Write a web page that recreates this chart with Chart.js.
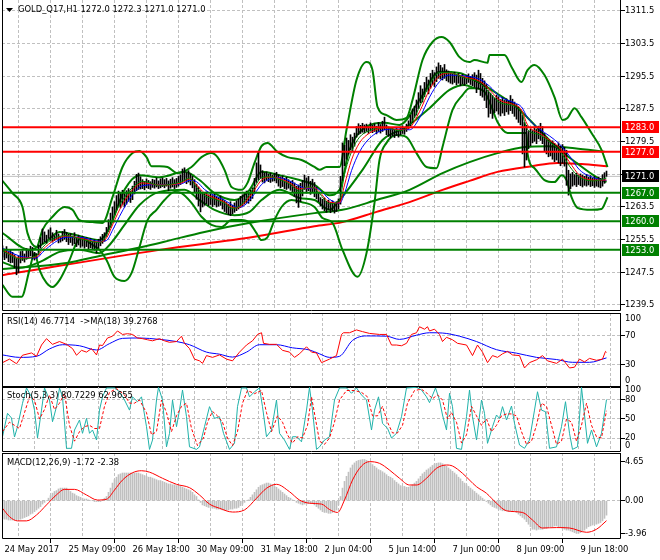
<!DOCTYPE html>
<html><head><meta charset="utf-8">
<script src="https://cdn.jsdelivr.net/npm/chart.js@4.4.1/dist/chart.umd.min.js"></script>
<style>
html,body{margin:0;padding:0;background:#fff;width:660px;height:560px;overflow:hidden}
canvas{position:absolute;left:0}
</style></head><body>
<canvas id="cMain" width="660" height="318" style="top:0px"></canvas>
<canvas id="cRsi" width="660" height="88" style="top:304px"></canvas>
<canvas id="cSto" width="660" height="82" style="top:378px"></canvas>
<canvas id="cMacd" width="660" height="114" style="top:446px"></canvas>
<script>
// ---------- DATA ----------
const timeLabels = ['24 May 2017','25 May 09:00','26 May 18:00','30 May 09:00','31 May 18:00','2 Jun 04:00','5 Jun 14:00','7 Jun 00:00','8 Jun 09:00','9 Jun 18:00'];
const gridBars = [0,16,32,48,64,80,96,112,128,144,160,176,192,208,224,240,256,272,288,304];
const priceTicks = [1239.5,1247.5,1255.5,1263.5,1271.5,1279.5,1287.5,1295.5,1303.5,1311.5];
const rsiTicks = [30,70];
const stoTicks = [20,50,80];
const macdTicks = [-3.96,0,4.65];
const levelsRed = [1283.0,1277.0];
const levelsGreen = [1267.0,1260.0,1253.0];
const lastPrice = 1271.0;

const barHigh = [
1254.0,1253.2,1253.8,1252.6,1253.0,1252.4,1251.8,1250.9,1251.5,1252.6,
1252.8,1252.0,1253.3,1253.1,1253.9,1253.6,1252.4,1252.1,1254.2,1256.0,
1258.1,1257.4,1256.6,1257.9,1258.4,1257.2,1256.5,1257.8,1256.9,1256.2,
1257.5,1258.0,1257.3,1256.8,1257.0,1256.4,1257.2,1256.1,1256.6,1255.9,
1256.3,1255.7,1256.0,1255.4,1255.8,1255.1,1255.5,1254.9,1255.6,1256.2,
1256.8,1257.2,1258.5,1260.4,1262.0,1263.5,1264.8,1266.3,1267.4,1266.9,
1267.6,1266.8,1267.5,1268.0,1267.4,1268.6,1269.8,1271.5,1271.8,1270.9,
1270.2,1269.8,1270.4,1270.0,1269.7,1270.3,1270.1,1270.6,1269.9,1270.4,
1270.6,1270.2,1270.5,1269.9,1270.3,1270.7,1270.2,1270.5,1271.0,1271.4,
1272.8,1273.1,1271.9,1272.4,1271.6,1271.0,1270.2,1269.1,1268.4,1267.5,
1267.0,1266.8,1267.2,1266.5,1266.9,1266.3,1266.6,1266.0,1265.8,1266.2,
1265.5,1265.1,1264.6,1264.2,1264.8,1263.9,1264.5,1265.0,1265.4,1266.1,
1266.5,1267.0,1267.4,1266.9,1267.6,1268.2,1270.5,1274.3,1277.0,1273.8,
1272.4,1271.9,1272.1,1271.6,1271.8,1271.3,1271.7,1272.0,1271.4,1270.9,
1271.1,1270.5,1270.8,1270.2,1269.8,1270.0,1269.4,1268.6,1268.9,1269.3,
1270.0,1271.3,1270.6,1271.0,1269.8,1270.3,1269.5,1268.4,1267.0,1265.8,
1265.4,1265.7,1264.9,1265.2,1264.6,1265.0,1264.4,1264.8,1265.5,1271.0,
1279.2,1278.6,1280.4,1279.8,1281.2,1280.6,1281.6,1283.2,1283.9,1283.5,
1284.0,1283.6,1283.8,1283.2,1284.1,1283.5,1283.9,1283.3,1284.2,1283.7,
1284.5,1285.5,1283.6,1283.1,1282.7,1283.0,1282.4,1282.9,1282.2,1283.1,
1283.4,1283.0,1283.8,1284.6,1286.0,1287.5,1288.2,1289.7,1291.5,1293.2,
1292.4,1294.0,1295.3,1294.6,1296.2,1297.0,1296.4,1297.8,1298.8,1298.2,
1297.6,1298.4,1297.1,1296.8,1296.3,1296.0,1296.5,1295.8,1296.2,1295.6,
1296.0,1295.4,1295.8,1296.1,1295.5,1295.9,1296.4,1295.8,1297.0,1296.2,
1295.0,1294.4,1293.5,1292.0,1291.4,1290.8,1290.2,1290.9,1290.5,1289.8,
1290.3,1289.6,1290.0,1289.4,1290.8,1289.9,1289.2,1288.6,1288.0,1287.3,
1286.0,1284.2,1283.5,1282.0,1282.6,1282.2,1283.1,1282.5,1283.3,1284.0,
1283.2,1281.5,1280.6,1280.0,1279.4,1279.7,1279.1,1278.6,1279.2,1278.4,
1278.8,1278.1,1277.4,1272.5,1271.6,1272.0,1271.4,1271.8,1271.2,1271.6,
1271.3,1271.0,1271.5,1270.8,1271.2,1270.6,1271.0,1270.4,1270.8,1270.5,
1271.4,1271.9,1272.3];
const barLow = [
1251.2,1250.6,1251.0,1250.1,1249.8,1249.9,1248.6,1246.9,1247.4,1249.8,
1250.4,1250.0,1250.7,1251.2,1251.5,1250.8,1250.5,1250.9,1251.8,1253.4,
1254.5,1255.0,1254.6,1255.8,1255.2,1254.9,1255.3,1255.6,1254.7,1254.9,
1255.2,1255.6,1255.0,1254.3,1254.8,1254.1,1254.5,1253.8,1254.2,1253.6,
1253.9,1253.4,1253.8,1253.1,1253.5,1253.0,1252.9,1252.2,1253.4,1254.0,
1254.6,1255.1,1256.3,1257.5,1258.6,1260.2,1261.5,1262.8,1263.6,1263.3,
1264.0,1263.5,1264.2,1264.9,1264.6,1265.3,1266.7,1267.5,1267.8,1267.9,
1268.0,1267.7,1268.2,1268.0,1267.8,1268.3,1268.1,1268.4,1268.0,1268.2,
1268.5,1268.2,1268.6,1267.5,1268.1,1268.4,1268.0,1268.3,1268.6,1269.0,
1269.5,1269.8,1269.2,1269.6,1268.9,1268.2,1267.0,1265.4,1263.8,1262.3,
1263.5,1263.9,1264.3,1263.8,1264.1,1263.6,1264.0,1263.5,1263.7,1263.9,
1263.0,1262.4,1262.0,1261.6,1261.4,1261.8,1262.2,1262.6,1263.0,1263.4,
1263.8,1264.2,1264.6,1264.4,1265.0,1265.6,1266.8,1269.5,1270.2,1270.5,
1269.6,1269.4,1270.0,1269.7,1269.5,1269.8,1269.9,1269.4,1268.6,1268.2,
1268.5,1268.0,1267.8,1268.1,1267.6,1267.2,1266.1,1264.5,1263.4,1264.8,
1266.2,1267.8,1266.9,1267.5,1266.6,1267.0,1266.0,1265.5,1264.8,1263.7,
1263.0,1262.6,1262.2,1262.8,1262.1,1262.5,1262.0,1262.4,1263.0,1264.2,
1270.0,1273.6,1275.2,1276.4,1277.5,1277.0,1278.4,1280.6,1281.2,1281.5,
1281.8,1281.6,1282.0,1281.5,1282.1,1281.7,1282.0,1281.4,1281.9,1281.6,
1282.0,1282.4,1281.2,1280.8,1280.4,1280.9,1280.5,1281.0,1280.6,1281.2,
1281.5,1281.3,1282.0,1282.6,1283.4,1284.2,1285.4,1286.0,1287.6,1289.0,
1289.2,1290.5,1291.8,1291.2,1292.6,1293.4,1293.0,1294.2,1295.0,1294.8,
1294.6,1295.0,1294.4,1294.1,1293.8,1293.6,1294.0,1293.4,1293.8,1293.2,
1293.6,1293.3,1293.7,1294.0,1293.5,1293.2,1292.8,1291.5,1292.4,1290.8,
1290.4,1289.6,1287.8,1285.5,1286.4,1285.2,1286.6,1287.0,1286.2,1285.8,
1286.5,1285.9,1286.8,1286.2,1287.1,1286.4,1285.7,1285.0,1284.2,1283.6,
1276.5,1273.3,1275.0,1277.8,1278.5,1279.2,1279.6,1279.0,1280.2,1279.8,
1279.0,1277.2,1276.5,1275.8,1276.0,1275.2,1274.6,1275.0,1274.3,1273.6,
1274.2,1273.5,1268.8,1266.4,1268.0,1268.6,1268.9,1268.5,1269.0,1268.7,
1268.4,1268.8,1268.6,1268.9,1268.5,1268.7,1268.3,1268.6,1268.4,1268.2,
1268.6,1269.3,1271.0];

const maRed = [[0,1253.0],[5,1251.7],[8.5,1251.0],[17,1251.3],[20,1253.0],[26,1255.4],[32,1256.4],[38.5,1255.9],[48.5,1254.9],[52,1255.9],[55,1259.1],[58.5,1262.8],[62,1265.7],[65,1267.7],[70,1269.4],[78.5,1268.9],[89.5,1269.4],[93.5,1270.4],[97,1268.9],[101,1266.9],[106,1265.7],[111,1264.7],[114.5,1263.5],[117.5,1263.3],[121,1264.5],[126,1267.7],[129.5,1270.1],[133.5,1270.8],[137.5,1270.6],[143.5,1269.4],[148.5,1267.9],[152.5,1268.2],[156,1268.2],[158.5,1267.2],[163.5,1264.7],[168.5,1264.5],[171,1268.9],[174.5,1275.0],[178.5,1279.2],[183.5,1281.6],[191,1282.9],[198.5,1282.4],[203.5,1282.9],[208.5,1286.8],[213.5,1292.2],[218.5,1295.6],[223.5,1296.3],[231,1295.3],[238.5,1294.3],[243.5,1292.2],[248.5,1289.7],[256,1288.5],[259.5,1287.3],[262.5,1283.6],[268.5,1281.6],[273.5,1279.9],[278.5,1278.0],[283.5,1274.5],[288.5,1271.3],[296,1270.1],[302,1270.1]];
const maGreen = [[0,1252.8],[5,1251.4],[8.5,1250.8],[17,1251.6],[20,1253.6],[26,1255.9],[32,1256.5],[38.5,1255.7],[48.5,1254.8],[52,1256.6],[55,1260.3],[58.5,1264.0],[62,1266.5],[65,1268.3],[70,1269.8],[78.5,1268.8],[89.5,1269.7],[93.5,1270.6],[97,1268.3],[101,1266.3],[106,1265.4],[111,1264.4],[114.5,1263.2],[117.5,1263.4],[121,1265.0],[126,1268.4],[129.5,1270.7],[133.5,1270.9],[137.5,1270.4],[143.5,1269.1],[148.5,1267.4],[152.5,1268.4],[156,1268.0],[158.5,1266.8],[163.5,1264.3],[168.5,1265.2],[171,1271.5],[174.5,1277.0],[178.5,1280.6],[183.5,1282.2],[191,1283.0],[198.5,1282.2],[203.5,1283.5],[208.5,1288.0],[213.5,1293.5],[218.5,1296.4],[223.5,1296.4],[231,1295.1],[238.5,1293.9],[243.5,1291.5],[248.5,1289.1],[256,1288.2],[259.5,1286.6],[262.5,1282.5],[268.5,1281.2],[273.5,1279.4],[278.5,1277.4],[283.5,1273.5],[288.5,1270.8],[296,1269.9],[302,1270.6]];
const maBlue = [[0,1253.4],[5,1252.2],[8.5,1251.5],[17,1251.0],[20,1252.4],[26,1254.8],[32,1256.1],[38.5,1256.1],[48.5,1255.1],[52,1255.3],[55,1257.8],[58.5,1261.2],[62,1264.3],[65,1266.5],[70,1268.7],[78.5,1269.0],[89.5,1269.2],[93.5,1270.0],[97,1269.7],[101,1267.8],[106,1266.3],[111,1265.2],[114.5,1264.1],[117.5,1263.4],[121,1263.9],[126,1266.7],[129.5,1269.0],[133.5,1270.3],[137.5,1270.7],[143.5,1269.9],[148.5,1268.6],[152.5,1268.0],[156,1268.2],[158.5,1267.7],[163.5,1265.4],[168.5,1264.4],[171,1266.8],[174.5,1272.4],[178.5,1277.0],[183.5,1280.3],[191,1282.4],[198.5,1282.6],[203.5,1282.4],[208.5,1285.3],[213.5,1290.4],[218.5,1294.2],[223.5,1295.8],[231,1295.6],[238.5,1294.8],[243.5,1293.1],[248.5,1290.6],[256,1289.0],[259.5,1288.0],[262.5,1285.4],[268.5,1282.6],[273.5,1280.9],[278.5,1278.9],[283.5,1276.0],[288.5,1272.6],[296,1270.6],[302,1270.0]];

const bandInUp = [[0,1257.1],[13.5,1253.0],[21,1254.7],[28.5,1257.4],[38.5,1256.4],[48.5,1255.4],[53.5,1258.4],[61,1267.7],[68.5,1271.3],[78.5,1270.8],[91,1272.1],[98.5,1270.1],[106,1266.9],[116,1265.2],[123.5,1267.7],[129.5,1272.1],[138.5,1271.3],[148.5,1270.1],[156,1268.9],[163.5,1266.4],[168.5,1267.7],[173.5,1277.5],[181,1282.9],[191,1284.1],[198.5,1283.6],[208.5,1289.7],[218.5,1296.6],[228.5,1296.3],[236,1294.6],[247,1291.4],[257,1288.0],[267,1283.1],[277,1278.2],[287,1274.3],[297,1270.8],[302,1269.6]];
const bandInLow = [[0,1250.0],[8.5,1248.6],[18.5,1250.0],[28.5,1252.5],[38.5,1253.0],[48.5,1252.2],[53.5,1254.2],[61,1259.1],[68.5,1264.0],[78.5,1267.2],[91,1267.7],[98.5,1265.2],[106,1262.8],[116,1261.5],[123.5,1262.3],[129.5,1265.2],[138.5,1267.7],[148.5,1265.7],[156,1265.2],[163.5,1262.8],[168.5,1265.2],[180,1272.6],[190,1279.9],[202,1283.1],[213.5,1287.7],[223.5,1292.2],[231,1293.4],[236,1292.6]];
const bandOutUp = [[0,1269.9],[5,1266.9],[10,1263.5],[12.5,1257.1],[17,1253.7],[20,1257.9],[25,1261.1],[31,1263.5],[35,1262.8],[38.5,1260.3],[45,1259.8],[50,1259.6],[55,1265.9],[60,1273.3],[65,1276.7],[68.5,1277.2],[72,1275.7],[74.5,1273.5],[78.5,1273.5],[82.5,1273.3],[87.5,1271.8],[94.5,1273.3],[99.5,1275.7],[104.5,1276.7],[107.5,1275.7],[111,1272.6],[114.5,1268.4],[119.5,1267.7],[122.5,1269.4],[126,1274.3],[129.5,1278.4],[132.5,1279.2],[137.5,1277.0],[142.5,1275.7],[149.5,1275.0],[156,1273.3],[158.5,1272.6],[162,1273.3],[168.5,1273.3],[172,1282.4],[177,1294.6],[182,1299.0],[185,1297.0],[187.5,1288.0],[192,1286.0],[197,1284.8],[202,1285.3],[205,1289.7],[210,1299.5],[215,1303.9],[219.5,1305.1],[223.5,1303.9],[228.5,1300.2],[233.5,1299.0],[236,1299.5],[242.5,1298.8],[243.5,1300.7],[251,1300.7],[254.5,1297.8],[259.5,1294.1],[262.5,1297.0],[266,1298.3],[271,1295.8],[276,1290.4],[280,1284.8],[282.5,1285.3],[286,1287.7],[289.5,1285.5],[294.5,1281.6],[299.5,1277.5],[302.5,1273.3]];
const bandOutLow = [[0,1244.4],[5,1241.5],[9.5,1241.5],[13.5,1248.1],[16,1252.2],[18.5,1248.1],[22,1244.9],[25,1243.9],[28.5,1245.6],[33.5,1250.5],[37,1254.7],[40,1256.1],[43.5,1254.7],[48.5,1253.0],[52,1250.5],[56,1246.4],[61,1245.4],[64.5,1247.3],[68.5,1253.7],[72.5,1260.3],[77,1262.8],[81,1265.2],[86,1267.2],[89.5,1266.9],[94.5,1264.5],[99.5,1261.1],[104.5,1259.1],[109.5,1258.6],[114.5,1260.3],[119.5,1260.3],[123.5,1259.6],[127,1257.1],[129.5,1255.4],[132.5,1256.1],[136,1260.3],[139.5,1263.5],[144.5,1265.2],[149.5,1264.7],[156,1263.5],[160,1260.8],[165,1259.6],[170,1253.0],[177.5,1246.4],[182,1252.2],[186,1264.5],[188.5,1275.0],[192,1279.2],[197,1281.1],[202,1280.6],[207,1276.7],[212,1273.3],[217,1273.0],[220,1278.2],[225,1287.3],[230,1290.9],[233.5,1292.6],[236,1292.6],[241,1291.7],[244.5,1288.0],[247.5,1284.3],[252.5,1281.6],[259.5,1281.6],[262,1281.6],[262.5,1276.7],[266,1273.0],[271,1270.1],[276,1269.6],[279.5,1271.3],[282,1270.1],[284.5,1265.9],[287.5,1263.3],[294.5,1262.8],[299.5,1263.0],[302.5,1265.9]];
const maLongGreen = [[0,1248.3],[32,1249.8],[48.5,1251.5],[78.5,1254.7],[101,1257.4],[126,1259.8],[156,1262.0],[170,1262.8],[187,1265.2],[203.5,1267.7],[220,1271.8],[233.5,1274.5],[247.5,1276.7],[261,1278.2],[272.5,1278.4],[286,1277.9],[301,1277.0]];
const maLongRed = [[0,1246.8],[78.5,1253.0],[126,1256.2],[156,1258.8],[170,1259.8],[187,1262.3],[203.5,1264.7],[220,1267.7],[233.5,1269.9],[247.5,1272.1],[264.5,1273.5],[277.5,1274.3],[289.5,1274.0],[302.5,1273.5]];

const rsiLine = [[0,32.9],[3.5,37.6],[7,31.4],[10,42.9],[14.5,46],[17,41.4],[19.5,56.7],[22,65.3],[25,57.6],[28.5,61.4],[32,57.6],[35,51.9],[37,42.9],[39.5,49.5],[42,47.1],[44.5,51.9],[47,43.3],[48.5,56.7],[50,56],[52.5,66.2],[55,68.6],[57.5,75.7],[60,71],[62.5,72],[65,71],[67.5,66.2],[70,65.3],[72.5,63.8],[75,62.4],[78.5,65.3],[81,62.4],[83.5,60.4],[87,61.4],[89.5,68.6],[91,59],[93.5,51.9],[96,37.6],[98.5,35.3],[100,31.9],[102,42.4],[105,40],[108.5,43.3],[112,37.6],[115,35.3],[118.5,47.1],[122,56.7],[125,62.4],[127.5,71],[129.5,73.3],[130.5,59],[133.5,57.6],[137,57.6],[140,49.5],[143.5,47.1],[146,40],[148.5,44.8],[152,54.3],[154.5,47.1],[157,46],[159.5,32.9],[163.5,37.6],[167,42.4],[169.5,71],[170.5,73.3],[173.5,73.3],[177,77.1],[180,74.8],[183.5,72.4],[188.5,71],[192,71],[194.5,56.7],[197,56.7],[199.5,55.7],[202,59],[204.5,71],[207,73.3],[208.5,81.4],[211,78.1],[212.5,81.4],[213.5,75.7],[216,78.1],[218.5,71],[220,61.4],[222,67.1],[225,63.8],[227.5,59],[232,56.7],[235,42.4],[237.5,56.7],[240,47.1],[242.5,32.9],[245,42.4],[247.5,40],[250,44.8],[252.5,48.1],[255,43.3],[258.5,42.4],[261,25.7],[263.5,32.9],[267,36.7],[270,42.4],[272.5,35.3],[277,31.9],[280,37.6],[283.5,25.7],[286,26.7],[288.5,37.6],[291,33.9],[293.5,38.6],[297,36],[300,37.6],[301.5,48.1],[302,46.8]];
const rsiMa = [[0,43.3],[8.5,40],[17,41.4],[23.5,51.4],[30,57.1],[38.5,55.7],[47,50],[53.5,58.6],[60,65.7],[68.5,66.2],[78.5,64.3],[87,61.4],[93.5,57.1],[102,47.1],[108.5,44.3],[115,40.4],[122,47.1],[128.5,57.1],[137,57.1],[145,52.9],[153.5,50],[158.5,44.8],[163.5,40],[168.5,41.4],[175,62.9],[182,69],[192,68.6],[198.5,64.3],[207,70],[213.5,73.3],[220,72.9],[228.5,68.6],[237,61.4],[247,50.4],[257,45.7],[267,40],[277,37.1],[285,33.3],[293.5,33.3],[302,39.3]];

const stoMain = [[0,22],[2.5,59],[4.5,51.6],[6,21.6],[7.5,37.8],[10,74.8],[12,99],[14.5,85],[16,64],[17.5,20],[19.5,64],[21,99],[23.5,80],[25,45.7],[27,69.5],[28.5,99],[30,85],[32,3.7],[34.5,3.7],[36,32.6],[38.5,48.4],[40,27.4],[42,51],[43.5,27.4],[45,32.6],[47,16.8],[48.5,64],[50,85],[52,99],[56,99],[58.5,93],[61,80],[63.5,64],[65,85],[67.5,77.3],[69.5,85],[72,37.8],[73.5,2],[75,16.8],[77,80],[78,100],[80,80],[82,6],[83.5,27.4],[85,80],[87,37.8],[88.5,64],[90,95.8],[92,53.6],[93.5,6],[97,2],[98.5,6],[101,37.8],[103.5,69.5],[106,51],[108.5,53.6],[110.5,27.4],[113.5,2],[116,11.6],[117.5,69.5],[119.5,99],[122,99],[123.5,85],[126,93],[128.5,99],[130,69.5],[132,22],[134.5,32.6],[137,80],[138.5,27.4],[141,16.8],[143.5,2],[145,22],[147,22],[149.5,14],[152,64],[153.5,100],[155,64],[157,2],[158.5,6],[161,16.8],[163.5,22],[166,80],[168.5,99],[172,99],[174.5,90.6],[177,99],[179.5,88],[182,80],[184.5,32.6],[186,64],[188,85],[190,43.2],[192.5,35.3],[194.5,20],[197,27.4],[199.5,53.6],[202,99],[207,100],[209.5,95.8],[212,85],[213.5,75.8],[216.5,99],[218.5,80],[220,56.3],[222,32.6],[223.5,90.6],[225,69.5],[227,3.7],[229.5,2],[232,53.6],[233.5,95.8],[235,53.6],[237,16.8],[239.5,80],[241,59],[242.5,11.6],[245,37.8],[247,56.3],[248.5,51],[250,69.5],[252,48.4],[254.5,70.5],[256,43.2],[258.5,9],[261,3.7],[263.5,16.8],[266,64],[267.5,93],[269.5,64],[271.5,61.5],[273.5,3.7],[277,6],[279.5,37.8],[281.5,77.3],[283.5,27.4],[285,2],[287.5,6],[289.5,100],[291,56.3],[292.5,11.6],[294.5,32.6],[297,6],[299.5,27.4],[302,80.7]];
const stoSignal = [[0,30],[3.5,45],[6,40],[8.5,35],[11,60],[13.5,85],[16,80],[18.5,50],[21,65],[23.5,88],[26,65],[28.5,75],[31,90],[33.5,40],[36,15],[38.5,30],[41,38],[43.5,40],[46,35],[48.5,35],[51,70],[53.5,92],[57,98],[61,88],[63.5,75],[66,75],[68.5,80],[72,60],[74.5,25],[77,30],[79.5,80],[82,60],[84.5,30],[87,55],[89.5,70],[92,75],[94.5,35],[97.5,8],[100.5,20],[102.5,45],[105,62],[107.5,55],[110,45],[112.5,20],[115,8],[117.5,30],[120,75],[122.5,95],[126,90],[129.5,95],[132,60],[134.5,30],[137.5,55],[140,45],[142.5,25],[145,12],[147.5,22],[150,20],[152.5,40],[154.5,85],[156.5,50],[158.5,15],[161,10],[163.5,20],[166,45],[168.5,80],[172,95],[176,95],[179.5,92],[182.5,85],[185,55],[187.5,55],[190,70],[192.5,45],[195,28],[197.5,28],[200,40],[202.5,75],[206,95],[209.5,97],[212.5,90],[215,82],[217.5,88],[220,80],[222.5,50],[224.5,60],[227,45],[229.5,12],[232,25],[234.5,70],[237,55],[239.5,40],[242,50],[244.5,30],[247,40],[249.5,55],[252,58],[254.5,58],[257,55],[259.5,30],[262,10],[264.5,15],[267,40],[269.5,75],[272,70],[274.5,40],[277,10],[279.5,15],[282,50],[284.5,45],[287,15],[289.5,40],[292,75],[294.5,40],[297,22],[299.5,20],[302,63]];

const macdMain = [
-2.1,-2.2,-2.2,-2.3,-2.3,-2.3,-2.3,-2.3,-2.2,-2.2,
-2.1,-2.0,-1.9,-1.8,-1.6,-1.5,-1.3,-1.1,-0.9,-0.7,
-0.4,-0.2,0.0,0.3,0.6,0.9,1.1,1.2,1.4,1.5,
1.5,1.5,1.5,1.3,1.1,0.9,0.8,0.6,0.5,0.4,
0.3,0.2,0.2,0.1,0.0,0.0,-0.1,-0.1,-0.1,-0.1,
0.1,0.3,0.5,1.0,1.5,2.1,2.5,2.8,3.1,3.2,
3.3,3.3,3.3,3.3,3.3,3.3,3.3,3.3,3.3,3.2,
3.1,3.0,2.9,2.8,2.8,2.7,2.6,2.5,2.4,2.4,
2.3,2.2,2.1,2.0,2.0,1.9,1.9,1.8,1.8,1.7,
1.6,1.5,1.4,1.3,1.2,1.0,0.7,0.5,0.1,-0.2,
-0.5,-0.6,-0.7,-0.8,-0.8,-0.9,-0.9,-1.0,-1.0,-1.0,
-1.1,-1.1,-1.1,-1.1,-1.0,-1.0,-0.9,-0.9,-0.8,-0.6,
-0.4,-0.2,0.0,0.1,0.4,0.7,1.0,1.3,1.6,1.8,
1.9,2.0,2.1,2.1,2.0,1.9,1.7,1.6,1.4,1.2,
1.0,0.8,0.6,0.4,0.3,0.1,0.0,-0.2,-0.3,-0.4,
-0.5,-0.4,-0.4,-0.3,-0.3,-0.3,-0.5,-0.7,-0.9,-1.1,
-1.3,-1.4,-1.4,-1.5,-1.5,-1.4,-1.3,-1.1,-0.5,0.5,
1.5,2.3,2.9,3.4,3.9,4.25,4.5,4.7,4.8,4.85,
4.9,4.9,4.8,4.7,4.5,4.3,4.1,3.9,3.7,3.6,
3.45,3.3,3.1,2.9,2.8,2.65,2.4,2.2,2.0,1.8,
1.7,1.7,1.6,1.6,1.7,1.9,2.1,2.3,2.6,2.9,
3.2,3.4,3.65,3.8,4.0,4.2,4.35,4.45,4.5,4.5,
4.4,4.25,4.1,3.9,3.7,3.5,3.3,3.1,2.8,2.6,
2.3,2.1,1.9,1.7,1.5,1.3,1.1,0.9,0.7,0.5,
0.3,0.1,-0.1,-0.3,-0.5,-0.7,-0.8,-0.9,-1.0,-1.1,
-1.2,-1.2,-1.2,-1.3,-1.3,-1.3,-1.3,-1.4,-1.6,-1.8,
-2.0,-2.2,-2.5,-2.8,-3.1,-3.4,-3.4,-3.5,-3.4,-3.4,
-3.4,-3.3,-3.3,-3.2,-3.1,-3.1,-3.0,-3.0,-3.1,-3.2,
-3.3,-3.4,-3.5,-3.5,-3.6,-3.7,-3.8,-3.9,-3.9,-3.8,
-3.6,-3.5,-3.3,-3.1,-3.0,-2.9,-2.8,-2.8,-2.7,-2.6,
-2.4,-2.1,-1.72];
const macdSignal = [[0,-0.9],[3.5,-1.9],[7.5,-2.4],[12,-2.4],[17,-1.7],[22,-0.5],[27,0.7],[31,1.35],[36,1.35],[42,0.68],[47.5,0.08],[52,0.17],[56,1.27],[60,2.46],[65,3.33],[69.5,3.57],[73.5,3.4],[80,2.67],[87,1.95],[93.5,1.55],[98.5,0.68],[103.5,-0.4],[108.5,-0.9],[115,-1.35],[121,-1.1],[127,0.29],[132,1.48],[137,1.95],[143.5,1.07],[148.5,0.08],[153.5,-0.3],[159.5,-0.4],[163.5,-1.05],[167.5,-1.4],[171,0.08],[175,2.46],[179.5,4.13],[183.5,4.65],[188.5,4.45],[193.5,3.65],[198.5,2.67],[203.5,1.87],[207,1.87],[212,2.67],[217,3.86],[222,4.25],[225,4.13],[230,3.26],[237,1.67],[242,0.88],[247,-0.3],[252,-1.2],[260,-1.4],[265,-2.3],[270,-3.25],[277,-3.2],[283.5,-3.25],[292,-3.76],[297,-3.4],[302,-2.38]];

// ---------- RENDERING ----------
const FAM = "'DejaVu Sans Condensed','DejaVu Sans',sans-serif";
const FONT = {family: FAM, size: 9.3};
const FONTSTR = "9.3px " + FAM;
const XMIN = -0.25, XMAX = 309.25;
const P = arr => arr.map(([x, y]) => ({x, y}));
const L = (data, color, width, extra) => Object.assign({type:'line', data, borderColor:color, backgroundColor:color, borderWidth:width, pointRadius:0, fill:false, tension:0}, extra || {});
const SM = {cubicInterpolationMode:'monotone'};
const HL = v => [{x:XMIN, y:v}, {x:XMAX, y:v}];
const TRANSP = 'rgba(0,0,0,0)';

function xAxis(show) {
  return {
    type:'linear', min:XMIN, max:XMAX, offset:false,
    afterBuildTicks: s => { s.ticks = gridBars.map(v => ({value:v})); },
    grid:{color:'#c0c0c0', lineWidth:1, drawTicks:show, tickLength:4, tickWidth:1,
      tickColor: c => (c.tick && c.tick.value % 32 === 0) ? '#000' : TRANSP},
    border:{display:false, dash:[3,2]},
    ticks:{display:show, autoSkip:false, maxRotation:0, minRotation:0, align:'start', padding:1, labelOffset:2,
      color:'#000', font:FONT, callback: v => (v % 32 === 0 ? timeLabels[v / 32] : '')},
    afterFit: s => { s.height = show ? 21 : 0; s.paddingLeft = 0; s.paddingRight = 0; s.paddingTop = 0; s.paddingBottom = 0; }
  };
}
function yAxis(min, max, tickVals, fmt, gridColor) {
  return {
    type:'linear', position:'right', min, max,
    afterBuildTicks: s => { s.ticks = tickVals.map(v => ({value:v})); },
    grid:{color: gridColor || '#c0c0c0', lineWidth:1, tickLength:4, tickColor:'#000'},
    border:{display:false, dash:[3,2]},
    ticks:{color:'#000', font:FONT, padding:0, autoSkip:false, callback: v => fmt(v)},
    afterFit: s => { s.width = 39; s.paddingTop = 0; s.paddingBottom = 0; }
  };
}

const decoCfg = {};
const decoPlugin = {
  id:'deco',
  afterDraw(chart) {
    const o = decoCfg[chart.canvas.id]; if (!o) return;
    const ctx = chart.ctx, a = chart.chartArea, ys = chart.scales.y;
    ctx.save();
    ctx.strokeStyle = '#000'; ctx.lineWidth = 1;
    ctx.beginPath();
    if (!o.noTop) { ctx.moveTo(a.left + 0.5, a.top + 0.5); ctx.lineTo(a.right - 0.5, a.top + 0.5); }
    ctx.moveTo(a.left + 0.5, a.top); ctx.lineTo(a.left + 0.5, a.bottom - 0.5);
    ctx.lineTo(a.right - 0.5, a.bottom - 0.5); ctx.lineTo(a.right - 0.5, a.top);
    ctx.stroke();
    ctx.font = FONTSTR; ctx.textBaseline = 'middle'; ctx.textAlign = 'left';
    if (o.tri) {
      ctx.fillStyle = '#000'; ctx.beginPath();
      ctx.moveTo(a.left + 4, a.top + 8); ctx.lineTo(a.left + 11, a.top + 8); ctx.lineTo(a.left + 7.5, a.top + 12); ctx.closePath(); ctx.fill();
    }
    ctx.fillStyle = '#000';
    ctx.fillText(o.title, a.left + o.tx, a.top + o.ty);
    (o.edge || []).forEach(([t, v, dy]) => { ctx.fillStyle = '#000'; ctx.fillText(t, a.right + 4, ys.getPixelForValue(v) + dy); });
    (o.boxes || []).forEach(([v, col]) => {
      const y = Math.round(ys.getPixelForValue(v));
      ctx.fillStyle = col; ctx.fillRect(a.right + 1, y - 6, 37, 12);
      ctx.fillStyle = '#fff'; ctx.fillText(v.toFixed(1), a.right + 4, y + 0.5);
    });
    ctx.restore();
  }
};

function makeChart(id, datasets, yCfg, showX, pad) {
  return new Chart(document.getElementById(id), {
    type:'line',
    data:{datasets},
    options:{
      responsive:false, animation:false, events:[],
      layout:{padding:pad},
      scales:{x:xAxis(showX), y:yCfg},
      plugins:{legend:{display:false}, tooltip:{enabled:false}},
      elements:{point:{radius:0}}
    },
    plugins:[decoPlugin]
  });
}

// Main price panel
decoCfg.cMain = {title:'GOLD_Q17,H1 1272.0 1272.3 1271.0 1271.0', tx:16, ty:10, tri:true, noTop:true,
  boxes: levelsRed.map(v => [v, '#ff0000']).concat([[lastPrice, '#000000']], levelsGreen.map(v => [v, '#008000']))};
const mainSets = [];
levelsRed.forEach(v => mainSets.push(L(HL(v), '#ff0000', 2)));
levelsGreen.forEach(v => mainSets.push(L(HL(v), '#008000', 2)));
mainSets.push(L(P(maGreen), '#008000', 1, SM));
mainSets.push(L(P(maRed), '#ff0000', 1, SM));
mainSets.push(L(P(maBlue), '#0000ff', 1, SM));
mainSets.push({type:'bar', data: barHigh.map((h, i) => ({x:i, y:[barLow[i], h]})), backgroundColor:'#000', borderWidth:0, barThickness:1, borderSkipped:false});
mainSets.push(L(P(bandInUp), '#008000', 2, SM));
mainSets.push(L(P(bandInLow), '#008000', 2, SM));
mainSets.push(L(P(bandOutUp), '#008000', 2, SM));
mainSets.push(L(P(bandOutLow), '#008000', 2, SM));
mainSets.push(L(P(maLongGreen), '#008000', 2, SM));
mainSets.push(L(P(maLongRed), '#ff0000', 2, SM));
mainSets.push(L(HL(lastPrice), '#c0c0c0', 1));
makeChart('cMain', mainSets, yAxis(1238.03, 1314.19, priceTicks, v => v.toFixed(1)), false, {left:2, right:0, top:0, bottom:7});

// RSI panel
decoCfg.cRsi = {title:'RSI(14) 46.7714  ->MA(18) 39.2768', tx:5, ty:9, edge:[['100', 100, 6], ['0', 0, -6]]};
makeChart('cRsi', [
  L(P(rsiLine), '#ff0000', 1),
  L(P(rsiMa), '#0000ff', 1, SM)
], yAxis(-1.43, 100, rsiTicks, v => String(v)), false, {left:2, right:0, top:9, bottom:4});

// Stochastic panel
decoCfg.cSto = {title:'Stoch(5,3,3) 80.7229 62.9655', tx:5, ty:10, edge:[['100', 100, 2], ['0', 0, -5]]};
makeChart('cSto', [
  L(P(stoSignal), '#ff0000', 1, {borderDash:[3,2]}),
  L(P(stoMain), '#20b2aa', 1)
], yAxis(-2.1, 102.1, stoTicks, v => String(v)), false, {left:2, right:0, top:8, bottom:8});

// MACD panel
decoCfg.cMacd = {title:'MACD(12,26,9) -1.72 -2.38', tx:5, ty:10};
makeChart('cMacd', [
  L(P(macdSignal), '#ff0000', 1, SM),
  {type:'bar', data: macdMain.map((v, i) => ({x:i, y:v})), backgroundColor:'#c0c0c0', borderWidth:0, barThickness:1, borderSkipped:false}
], yAxis(-4.56, 5.68, macdTicks, v => v.toFixed(2), c => (c.tick && c.tick.value === 0) ? '#c0c0c0' : TRANSP), true, {left:2, right:0, top:7, bottom:0});
</script>
</body></html>
